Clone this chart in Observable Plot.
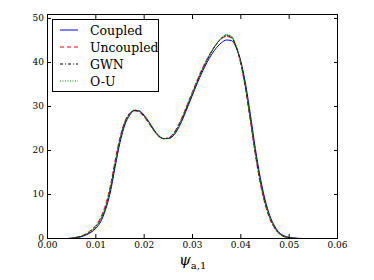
<!DOCTYPE html>
<html>
<head>
<meta charset="utf-8">
<script src="https://cdn.jsdelivr.net/npm/d3@7"></script>
<script src="https://cdn.jsdelivr.net/npm/@observablehq/plot@0.6"></script>
<style>
  body { margin: 0; background: #fff; }
  #wrap { position: relative; width: 374px; height: 280px; font-family: "DejaVu Serif", serif; }
  #legend { position: absolute; left: 52px; top: 19px; width: 105px; height: 71px; border: 1px solid #000; background: #fff; box-sizing: content-box; }
  .row { position: absolute; left: 0; height: 16px; display: flex; align-items: center; font-size: 12.5px; color: #000; }
  .row svg { margin-left: 7px; margin-right: 12px; }
  #xlabel { position: absolute; left: 179px; top: 251px; font-size: 15px; color: #000; white-space: nowrap; }
  #xlabel i { font-family: "DejaVu Serif", serif; font-style: italic; }
  #xlabel sub { font-style: normal; font-size: 10px; vertical-align: -4px; }
</style>
</head>
<body>
<div id="wrap"></div>
<script>
const psi = [0.000, 0.004, 0.005, 0.006, 0.007, 0.008, 0.009, 0.010, 0.011, 0.012, 0.013, 0.014, 0.015, 0.016, 0.017, 0.018, 0.019, 0.020, 0.021, 0.022, 0.023, 0.024, 0.025, 0.026, 0.027, 0.028, 0.029, 0.030, 0.031, 0.032, 0.033, 0.034, 0.035, 0.036, 0.037, 0.038, 0.039, 0.040, 0.041, 0.042, 0.043, 0.044, 0.045, 0.046, 0.047, 0.048, 0.049, 0.050, 0.051, 0.052, 0.053, 0.060];
const coupled = [0, 0, 0.05, 0.2, 0.4, 0.8, 1.4, 2.3, 3.8, 6.5, 10.5, 16.3, 21.8, 25.8, 28.0, 29.1, 29.0, 28.0, 26.5, 24.8, 23.4, 22.7, 22.7, 23.3, 24.9, 27.2, 29.9, 32.6, 35.3, 37.8, 40.0, 41.9, 43.4, 44.5, 45.1, 45.0, 43.5, 40.3, 35.0, 28.0, 20.5, 14.0, 8.9, 5.2, 2.8, 1.3, 0.6, 0.25, 0.1, 0.03, 0, 0];
const uncoupled = [0, 0, 0.08, 0.3, 0.6, 1.1, 1.9, 3.0, 4.8, 7.6, 12.0, 17.8, 23.0, 26.6, 28.5, 29.0, 28.7, 27.6, 26.1, 24.5, 23.2, 22.7, 22.9, 23.8, 25.6, 28.0, 30.7, 33.4, 36.1, 38.6, 40.8, 42.7, 44.3, 45.4, 45.9, 45.6, 43.6, 39.6, 33.7, 26.5, 19.0, 12.6, 7.8, 4.4, 2.3, 1.0, 0.4, 0.15, 0.05, 0, 0, 0];
const gwn = [0, 0, 0.05, 0.25, 0.5, 0.95, 1.65, 2.7, 4.3, 7.0, 11.2, 17.0, 22.4, 26.3, 28.3, 29.1, 28.9, 27.8, 26.3, 24.6, 23.3, 22.7, 22.8, 23.6, 25.3, 27.6, 30.3, 33.0, 35.7, 38.2, 40.5, 42.5, 44.2, 45.5, 46.1, 45.8, 43.7, 39.9, 34.2, 27.0, 19.6, 13.2, 8.3, 4.8, 2.5, 1.1, 0.45, 0.18, 0.06, 0, 0, 0];
const ou = [0, 0, 0.05, 0.25, 0.5, 0.95, 1.65, 2.7, 4.3, 7.0, 11.3, 17.1, 22.5, 26.4, 28.4, 29.2, 28.9, 27.8, 26.3, 24.6, 23.3, 22.7, 22.8, 23.6, 25.3, 27.7, 30.4, 33.1, 35.8, 38.3, 40.6, 42.6, 44.3, 45.6, 46.3, 46.0, 43.9, 40.0, 34.2, 27.0, 19.6, 13.2, 8.3, 4.8, 2.5, 1.1, 0.45, 0.18, 0.06, 0, 0, 0];
const seriesNames = ["Coupled", "Uncoupled", "GWN", "O-U"];
const xTicks = [0.00, 0.01, 0.02, 0.03, 0.04, 0.05, 0.06];
const yTicks = [0, 10, 20, 30, 40, 50];

const colors = {"Coupled": "#0000ff", "Uncoupled": "#ff0000", "GWN": "#000000", "O-U": "#008000"};
const dashes = {"Coupled": null, "Uncoupled": "4,3", "GWN": "3,2,1,2", "O-U": "1,1.5"};
const seriesValues = [coupled, uncoupled, gwn, ou];

const rows = [];
seriesNames.forEach((name, i) => {
  psi.forEach((x, j) => rows.push({series: name, x, y: seriesValues[i][j]}));
});

const marks = seriesNames.map(name => Plot.line(rows.filter(r => r.series === name), {
  x: "x", y: "y", stroke: colors[name], strokeWidth: 1,
  strokeDasharray: dashes[name], curve: "monotone-x"
}));

const chart = Plot.plot({
  width: 374,
  height: 280,
  marginLeft: 47,
  marginRight: 37,
  marginTop: 14,
  marginBottom: 42,
  style: {fontFamily: "DejaVu Serif, serif", fontSize: "9px", background: "#fff", color: "#000"},
  x: {domain: [0, 0.06]},
  y: {domain: [0, 50.9]},
  marks: [
    ...marks,
    Plot.axisX({ticks: xTicks, tickSize: -4, tickFormat: () => "", label: null}),
    Plot.axisX({anchor: "top", ticks: xTicks, tickSize: -4, tickFormat: () => "", label: null}),
    Plot.axisX({ticks: xTicks, tickSize: 0, tickPadding: 3, tickFormat: d3.format(".2f"), label: null}),
    Plot.axisY({ticks: yTicks, tickSize: -4, tickFormat: () => "", label: null}),
    Plot.axisY({anchor: "right", ticks: yTicks, tickSize: -4, tickFormat: () => "", label: null}),
    Plot.axisY({ticks: yTicks, tickSize: 0, tickPadding: 3.5, tickFormat: d3.format("d"), label: null}),
    Plot.frame({stroke: "#000", strokeWidth: 1})
  ]
});

const wrap = document.getElementById("wrap");
wrap.appendChild(chart);

const legend = document.createElement("div");
legend.id = "legend";
seriesNames.forEach((name, i) => {
  const row = document.createElement("div");
  row.className = "row";
  row.style.top = (2 + i * 17) + "px";
  const d = dashes[name];
  row.innerHTML = `<svg width="18" height="6"><line x1="0" y1="3" x2="18" y2="3" stroke="${colors[name]}" stroke-width="1" ${d ? `stroke-dasharray="${d}"` : ""}/></svg><span>${name}</span>`;
  legend.appendChild(row);
});
wrap.appendChild(legend);

const xl = document.createElement("div");
xl.id = "xlabel";
xl.innerHTML = `<i>ψ</i><sub>a,1</sub>`;
wrap.appendChild(xl);
</script>
</body>
</html>
